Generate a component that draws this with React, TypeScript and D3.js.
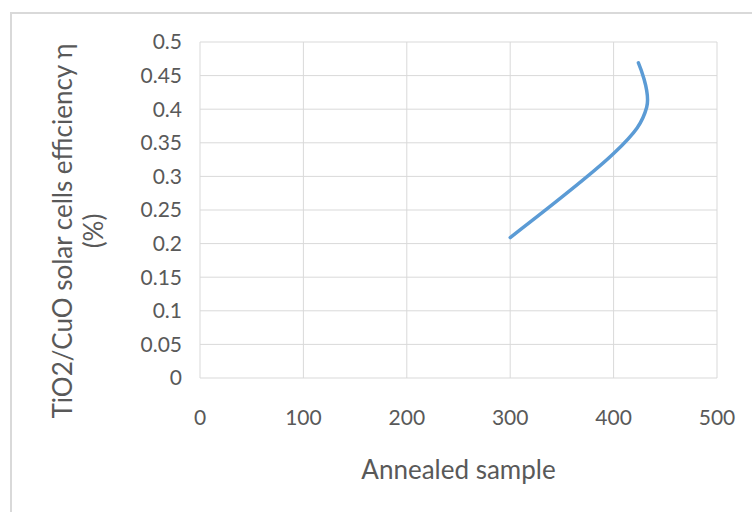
import React from "react";
import * as d3 from "d3";

const xValues = [300, 400, 432, 424];
const yValues = [0.209, 0.334, 0.403, 0.469];
const xTicks = [0, 100, 200, 300, 400, 500];
const yTicks = [0, 0.05, 0.1, 0.15, 0.2, 0.25, 0.3, 0.35, 0.4, 0.45, 0.5];
const xTitle = "Annealed sample";
const yTitleLines = ["TiO2/CuO solar cells efficiency η", "(%)"];

export default function App() {
  const W = 752, H = 512;
  const left = 200, right = 717, top = 42, bottom = 378;
  const x = d3.scaleLinear().domain([0, 500]).range([left, right]);
  const y = d3.scaleLinear().domain([0, 0.5]).range([bottom, top]);
  const pts: [number, number][] = xValues.map((v, i) => [v, yValues[i]]);
  const line = d3
    .line<[number, number]>()
    .x((d) => x(d[0]))
    .y((d) => y(d[1]))
    .curve(d3.curveCardinal.tension(0));
  const font = "Lato, 'Open Sans', sans-serif";
  const textColor = "#595959";
  return (
    <svg
      width={W}
      height={H}
      style={{ position: "absolute", left: 0, top: 0, background: "#fff" }}
    >
      <rect x={0} y={0} width={W} height={H} fill="#fff" />
      <rect x={11} y={13} width={W} height={H} fill="#fff" stroke="#d9d9d9" strokeWidth={2} />
      {yTicks.map((t) => (
        <line key={"gy" + t} x1={left} x2={right} y1={y(t)} y2={y(t)} stroke="#d9d9d9" strokeWidth={1} />
      ))}
      {xTicks.map((t) => (
        <line key={"gx" + t} x1={x(t)} x2={x(t)} y1={top} y2={bottom} stroke="#d9d9d9" strokeWidth={1} />
      ))}
      {yTicks.map((t) => (
        <text
          key={"ty" + t}
          x={182}
          y={y(t)}
          dy="0.35em"
          textAnchor="end"
          fontFamily={font}
          fontSize={21}
          fill={textColor}
        >
          {String(t)}
        </text>
      ))}
      {xTicks.map((t) => (
        <text
          key={"tx" + t}
          x={x(t)}
          y={418}
          dy="0.35em"
          textAnchor="middle"
          fontFamily={font}
          fontSize={21}
          fill={textColor}
        >
          {String(t)}
        </text>
      ))}
      <text
        x={(left + right) / 2}
        y={470}
        dy="0.35em"
        textAnchor="middle"
        fontFamily={font}
        fontSize={26}
        fill={textColor}
      >
        {xTitle}
      </text>
      <g transform={`translate(63, 231) rotate(-90)`}>
        {yTitleLines.map((s, i) => (
          <text
            key={s}
            x={0}
            y={i * 31}
            dy="0.35em"
            textAnchor="middle"
            fontFamily={font}
            fontSize={26}
            fill={textColor}
          >
            {s}
          </text>
        ))}
      </g>
      <path d={line(pts) || ""} fill="none" stroke="#5b9bd5" strokeWidth={3.5} strokeLinecap="round" />
    </svg>
  );
}
